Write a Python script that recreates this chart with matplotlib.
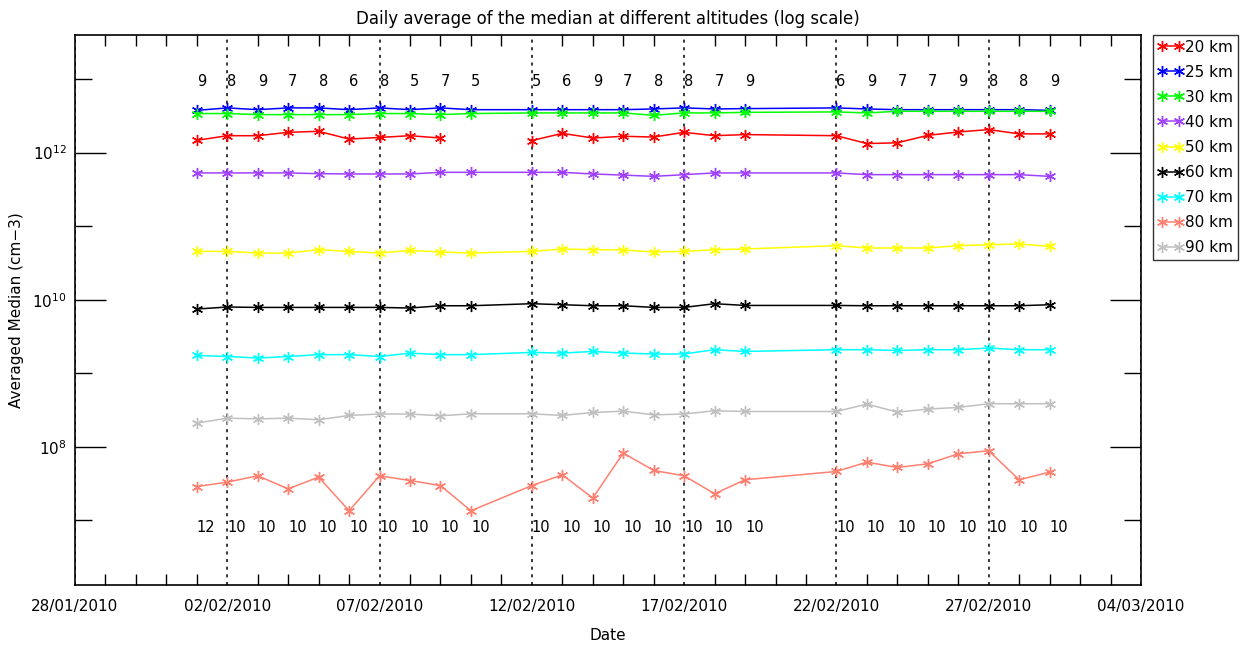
import numpy as np
import pandas as pd
import matplotlib
matplotlib.use('Agg')
import matplotlib.pyplot as plt
import matplotlib.dates as mdates
from matplotlib.ticker import FixedLocator, NullFormatter, LogFormatterMathtext

# jours de mesure
days = ['2010-02-01', '2010-02-02', '2010-02-03', '2010-02-04', '2010-02-05',
        '2010-02-06', '2010-02-07', '2010-02-08', '2010-02-09', '2010-02-10',
        '2010-02-12', '2010-02-13', '2010-02-14', '2010-02-15', '2010-02-16',
        '2010-02-17', '2010-02-18', '2010-02-19',
        '2010-02-22', '2010-02-23', '2010-02-24', '2010-02-25', '2010-02-26',
        '2010-02-27', '2010-02-28', '2010-03-01']

# nombre de profils (haut) et nombre de jours (bas)
top_counts = [9, 8, 9, 7, 8, 6, 8, 5, 7, 5,
              5, 6, 9, 7, 8, 8, 7, 9,
              6, 9, 7, 7, 9, 8, 8, 9]
bottom_counts = [12, 10, 10, 10, 10, 10, 10, 10, 10, 10,
                 10, 10, 10, 10, 10, 10, 10, 10,
                 10, 10, 10, 10, 10, 10, 10, 10]

alt_20 = [1.47e12, 1.70e12, 1.70e12, 1.89e12, 1.95e12, 1.53e12, 1.61e12, 1.70e12, 1.58e12, np.nan,
          1.46e12, 1.83e12, 1.58e12, 1.67e12, 1.63e12, 1.89e12, 1.70e12, 1.76e12,
          1.70e12, 1.33e12, 1.36e12, 1.72e12, 1.91e12, 2.06e12, 1.80e12, 1.80e12]
alt_25 = [3.76e12, 4.06e12, 3.84e12, 4.06e12, 4.06e12, 3.84e12, 4.06e12, 3.84e12, 4.06e12, 3.84e12,
          3.84e12, 3.84e12, 3.84e12, 3.84e12, 3.93e12, 4.06e12, 3.93e12, 3.97e12,
          4.06e12, 3.93e12, 3.84e12, 3.84e12, 3.84e12, 3.84e12, 3.84e12, 3.76e12]
alt_30 = [3.40e12, 3.40e12, 3.29e12, 3.29e12, 3.29e12, 3.29e12, 3.40e12, 3.40e12, 3.29e12, 3.40e12,
          3.47e12, 3.47e12, 3.47e12, 3.47e12, 3.22e12, 3.47e12, 3.47e12, 3.53e12,
          3.58e12, 3.47e12, 3.65e12, 3.65e12, 3.65e12, 3.65e12, 3.65e12, 3.65e12]
alt_40 = [5.30e11, 5.30e11, 5.30e11, 5.30e11, 5.18e11, 5.13e11, 5.13e11, 5.13e11, 5.40e11, 5.40e11,
          5.40e11, 5.40e11, 5.13e11, 4.95e11, 4.76e11, 5.02e11, 5.30e11, 5.30e11,
          5.30e11, 5.02e11, 5.02e11, 5.02e11, 5.02e11, 5.02e11, 5.02e11, 4.76e11]
alt_50 = [4.54e10, 4.54e10, 4.31e10, 4.31e10, 4.79e10, 4.54e10, 4.31e10, 4.69e10, 4.46e10, 4.31e10,
          4.54e10, 4.90e10, 4.79e10, 4.75e10, 4.46e10, 4.54e10, 4.79e10, 4.90e10,
          5.43e10, 5.05e10, 5.05e10, 5.05e10, 5.43e10, 5.60e10, 5.73e10, 5.31e10]
alt_60 = [7.47e9, 7.96e9, 7.86e9, 7.86e9, 7.86e9, 7.86e9, 7.86e9, 7.71e9, 8.28e9, 8.28e9,
          8.83e9, 8.55e9, 8.28e9, 8.28e9, 7.86e9, 7.86e9, 8.83e9, 8.36e9,
          8.36e9, 8.28e9, 8.28e9, 8.28e9, 8.28e9, 8.28e9, 8.28e9, 8.55e9]
alt_70 = [1.75e9, 1.69e9, 1.61e9, 1.69e9, 1.79e9, 1.79e9, 1.69e9, 1.88e9, 1.79e9, 1.79e9,
          1.92e9, 1.88e9, 1.98e9, 1.88e9, 1.83e9, 1.83e9, 2.09e9, 1.98e9,
          2.09e9, 2.09e9, 2.04e9, 2.09e9, 2.09e9, 2.20e9, 2.09e9, 2.09e9]
alt_80 = [2.88e7, 3.31e7, 4.03e7, 2.68e7, 3.87e7, 1.35e7, 4.03e7, 3.48e7, 2.97e7, 1.35e7,
          2.97e7, 4.16e7, 2.01e7, 8.21e7, 4.77e7, 4.03e7, 2.30e7, 3.56e7,
          4.62e7, 6.19e7, 5.23e7, 5.87e7, 8.04e7, 8.83e7, 3.56e7, 4.53e7]
alt_90 = [2.10e8, 2.45e8, 2.40e8, 2.45e8, 2.33e8, 2.67e8, 2.79e8, 2.79e8, 2.64e8, 2.81e8,
          2.81e8, 2.67e8, 2.93e8, 3.05e8, 2.72e8, 2.79e8, 3.09e8, 3.02e8,
          3.02e8, 3.81e8, 2.96e8, 3.26e8, 3.43e8, 3.85e8, 3.85e8, 3.85e8]

labels = ['20 km', '25 km', '30 km', '40 km', '50 km', '60 km', '70 km', '80 km', '90 km']
colors = ['#ff0000', '#0000ff', '#00ff00', '#a040ff', '#ffff00', '#000000',
          '#00ffff', '#ff8070', '#c0c0c0']
series = [alt_20, alt_25, alt_30, alt_40, alt_50, alt_60, alt_70, alt_80, alt_90]

dates = pd.to_datetime(days)

fig = plt.figure(figsize=(12.46, 6.48), dpi=100)
ax = fig.add_axes([75 / 1246, 1 - 585 / 648, 1066 / 1246, 550 / 648])

for vals, lab, col in zip(series, labels, colors):
    ax.plot(dates, vals, color=col, lw=1.1, marker=(6, 2, 0), ms=8, mew=1.0, label=lab)

# nombres au-dessus et en dessous
for d, n in zip(dates, top_counts):
    ax.text(d, 9.2e12, str(n), ha='left', va='center', fontsize=10.5)
for d, n in zip(dates, bottom_counts):
    ax.text(d, 8.1e6, str(n), ha='left', va='center', fontsize=10.5)

ax.set_yscale('log')
ax.set_ylim(1.32e6, 3.98e13)
ax.set_xlim(pd.Timestamp('2010-01-28'), pd.Timestamp('2010-03-04'))

major_dates = pd.date_range('2010-01-28', '2010-03-04', freq='5D')
ax.xaxis.set_major_locator(FixedLocator(mdates.date2num(major_dates)))
ax.xaxis.set_major_formatter(mdates.DateFormatter('%d/%m/%Y'))
ax.xaxis.set_minor_locator(mdates.DayLocator())
ax.grid(axis='x', which='major', linestyle=(0, (2, 3)), color='black', lw=1.1)

ax.yaxis.set_major_locator(FixedLocator([1e8, 1e10, 1e12]))
ax.yaxis.set_minor_locator(FixedLocator([1e7, 1e9, 1e11, 1e13]))
ax.yaxis.set_major_formatter(LogFormatterMathtext())
ax.yaxis.set_minor_formatter(NullFormatter())

ax.tick_params(axis='x', which='major', length=0, pad=10, labelsize=11)
ax.tick_params(axis='x', which='minor', direction='in', top=True, bottom=True, length=8, width=1)
ax.tick_params(axis='y', which='major', direction='in', left=True, right=True, length=22, width=1, labelsize=11, pad=6)
ax.tick_params(axis='y', which='minor', direction='in', left=True, right=True, length=12, width=1)

for sp in ax.spines.values():
    sp.set_linewidth(1.2)

ax.set_title('Daily average of the median at different altitudes (log scale)', fontsize=12, pad=8)
ax.set_xlabel('Date', fontsize=11, labelpad=10)
ax.set_ylabel('Averaged Median (cm\u22123)', fontsize=11, labelpad=6)

leg = fig.legend(loc='upper left', bbox_to_anchor=(1153 / 1246, 1 - 35 / 648), fontsize=11,
                 numpoints=2, handlelength=1.7, handletextpad=0.1, borderpad=0.3,
                 labelspacing=0.66, borderaxespad=0, fancybox=False, edgecolor='black')
leg.get_frame().set_linewidth(1.0)

fig.savefig('out.png', dpi=100)
